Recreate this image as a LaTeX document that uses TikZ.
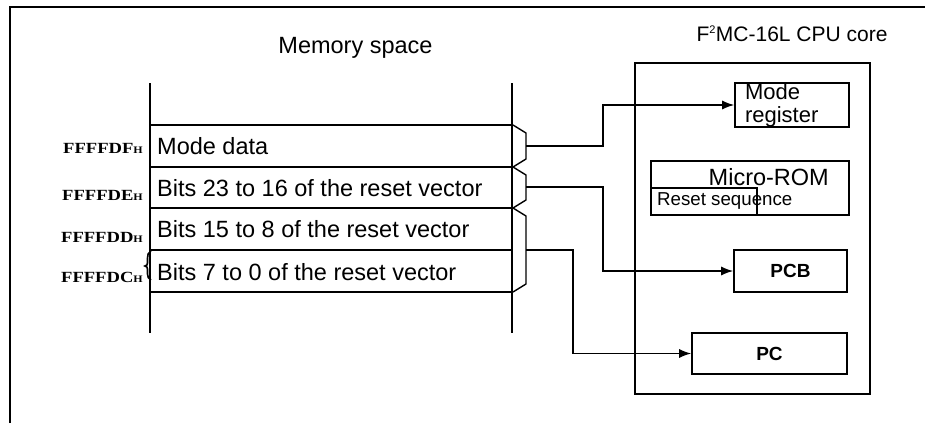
\documentclass[tikz,border=0pt]{standalone}
\usepackage{fontspec}
\setmainfont{Liberation Sans}
\newfontfamily\addrfont[FakeStretch=1.2]{Liberation Serif}
\usetikzlibrary{arrows.meta}
\begin{document}
\begin{tikzpicture}[x=1pt,y=-1pt,
  memtxt/.style={font=\fontsize{23.5}{28}\selectfont, anchor=base west, inner sep=0pt},
  addr/.style={font=\addrfont\bfseries\fontsize{15.5}{18}\selectfont, anchor=base east, inner sep=0pt},
  box/.style={draw, line width=1.6pt, inner sep=0pt},
  conn/.style={line width=1.4pt, -{Latex[length=12pt,width=9pt]}},
  rowline/.style={line width=1.6pt},
  memline/.style={line width=2pt},
  bracestyle/.style={line width=1.4pt, line join=round}]
\useasboundingbox (0,0) rectangle (925,423);
% frame
\draw[line width=2.7pt] (10,423) -- (10,7) -- (925,7);
% titles
\node[font=\fontsize{23.5}{28}\selectfont, anchor=base, inner sep=0pt] (memtitle) at (355.5,53) {Memory space};
\node[font=\fontsize{21}{25}\selectfont, anchor=base, inner sep=0pt] (cputitle) at (792,41) {F\textsuperscript{\fontsize{11}{11}\selectfont 2}MC-16L CPU core};
% memory space
\draw[memline] (150,83) -- (150,333);
\draw[memline] (512,83) -- (512,333);
\foreach \yy in {125,167,208,250,292} \draw[rowline] (150,\yy) -- (513,\yy);
\node[memtxt] (r1) at (157,154) {Mode data};
\node[memtxt] (r2) at (157,196) {Bits 23 to 16 of the reset vector};
\node[memtxt] (r3) at (157,237) {Bits 15 to 8 of the reset vector};
\node[memtxt] (r4) at (157,280) {Bits 7 to 0 of the reset vector};
% addresses
\node[addr] (a1) at (143,153) {FFFFDF{\fontsize{10}{10}\selectfont H}};
\node[addr] (a2) at (143,200) {FFFFDE{\fontsize{10}{10}\selectfont H}};
\node[addr] (a3) at (143,242) {FFFFDD{\fontsize{10}{10}\selectfont H}};
\node[addr] (a4) at (143,282) {FFFFDC{\fontsize{10}{10}\selectfont H}};
% small left brace
\draw[line width=1.6pt] (151,251) to[out=200,in=90] (147.5,258) -- (147.5,263) to[out=-90,in=0] (145,266) to[out=0,in=90] (147.5,269) -- (147.5,274) to[out=-90,in=160] (151,280);
% right braces
\draw[bracestyle] (513,125) -- (526,133) -- (526,159) -- (513,167);
\draw[bracestyle] (513,167) -- (526,175) -- (526,200) -- (513,208);
\draw[bracestyle] (513,208) -- (526,216) -- (526,284) -- (513,292);
\coordinate (b1) at (526,146);
\coordinate (b2) at (526,187);
\coordinate (b3) at (526,250);
% CPU core
\node[draw, line width=2pt, minimum width=235pt, minimum height=331pt, inner sep=0pt] (cpu) at (752.5,228.5) {};
\node[box, minimum width=114pt, minimum height=44pt, text width=94pt, inner xsep=10pt, align=left,
      font=\fontsize{22}{23}\selectfont] (modereg) at (792,105) {Mode\\register};
\node[box, minimum width=198pt, minimum height=54pt] (urom) at (750,188) {};
\node[font=\fontsize{23.5}{28}\selectfont, anchor=base east, inner sep=0pt] (uromlbl) at (829,185) {Micro-ROM};
\node[box, minimum width=106pt, minimum height=27pt] (rst) at (704,201.5) {};
\node[font=\fontsize{18.7}{22}\selectfont, anchor=base west, inner sep=0pt] (rstlbl) at (657,205) {Reset sequence};
\node[box, minimum width=113pt, minimum height=42pt, font=\bfseries\fontsize{19}{22}\selectfont] (pcb) at (790.5,271) {PCB};
\node[box, minimum width=155pt, minimum height=41pt, font=\bfseries\fontsize{19}{22}\selectfont] (pc) at (769.5,353.5) {PC};
% connectors
\draw[conn] (b1) -- ++(77,0) |- (modereg.west);
\draw[conn] (b2) -- ++(77,0) |- (pcb.west);
\draw[conn] (b3) -- ++(47,0) |- (pc.west);
\end{tikzpicture}
\end{document}
